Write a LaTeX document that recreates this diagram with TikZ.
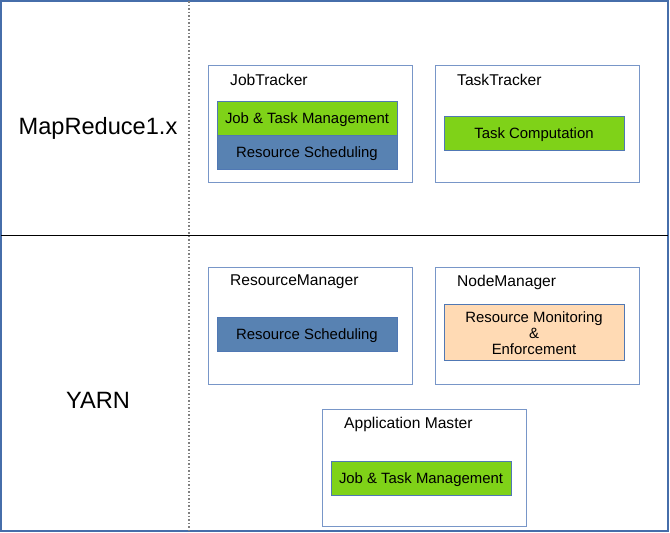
\documentclass[tikz,border=0pt]{standalone}
\usepackage{fontspec}
\setmainfont{Liberation Sans}
\definecolor{frameblue}{RGB}{70,110,170}
\definecolor{boxblue}{RGB}{120,150,200}
\definecolor{partblue}{RGB}{80,120,180}
\definecolor{jobgreen}{RGB}{127,210,24}
\definecolor{schedblue}{RGB}{88,130,178}
\definecolor{peach}{RGB}{255,218,180}
\tikzset{daemon/.style={draw=boxblue,line width=1pt,fill=white,anchor=north west,minimum width=204pt,minimum height=117pt,inner sep=0pt,outer sep=0pt}}
\tikzset{title/.style={anchor=west,inner sep=0pt,font=\fontsize{15.6}{18}\selectfont}}
\tikzset{part/.style={draw=partblue,line width=0.8pt,anchor=north west,minimum width=180pt,minimum height=34pt,inner sep=0pt,outer sep=0pt,align=center,font=\fontsize{14.9}{16}\selectfont}}
\tikzset{oneline/.style={text height=12.5pt,text depth=1.5pt}}
\tikzset{row/.style={inner sep=0pt,font=\fontsize{23.6}{26}\selectfont}}

\begin{document}
\begin{tikzpicture}[x=1pt, y=-1pt]
  \useasboundingbox (0,0) rectangle (670,533);

  % frame and row separators
  \draw [frameblue, line width=1.2pt] (1,1) rectangle (668,531);
  \draw [black, line width=1pt] (1,235) -- (668,235);
  \draw [gray, line width=1.5pt, dash pattern=on 1.5pt off 2pt] (189,1) -- (189,531);

  % row labels
  \node [row] (mr) at (98,128) {MapReduce1.x};
  \node [row] (yarn) at (98,400) {YARN};

  % daemons
  \foreach \n/\x/\y/\t in {jt/208/65/JobTracker, tt/435/65/TaskTracker,
      rm/208/267/ResourceManager, nm/435/267/NodeManager,
      am/322/409/Application Master}
  {
    \node [daemon] (\n) at (\x,\y) {};
    \node [title] (\n-title) at (\x+22,\y+15) {\t};
  }

  % JobTracker parts
  \node [part, oneline, fill=jobgreen] (jt-job) at (217,101) {Job \& Task Management};
  \node [part, oneline, fill=schedblue] (jt-sched) at (217,135) {Resource Scheduling};

  % TaskTracker parts
  \node [part, oneline, fill=jobgreen] (tt-task) at (444,116) {Task Computation};

  % ResourceManager parts
  \node [part, oneline, fill=schedblue] (rm-sched) at (217,317) {Resource Scheduling};

  % NodeManager parts
  \node [part, fill=peach, minimum height=56pt] (nm-mon) at (444,304)
    {\rule{0pt}{13.7pt}Resource Monitoring\\\&\\Enforcement};

  % Application Master parts
  \node [part, oneline, fill=jobgreen] (am-job) at (331,461) {Job \& Task Management};

\end{tikzpicture}
\end{document}
